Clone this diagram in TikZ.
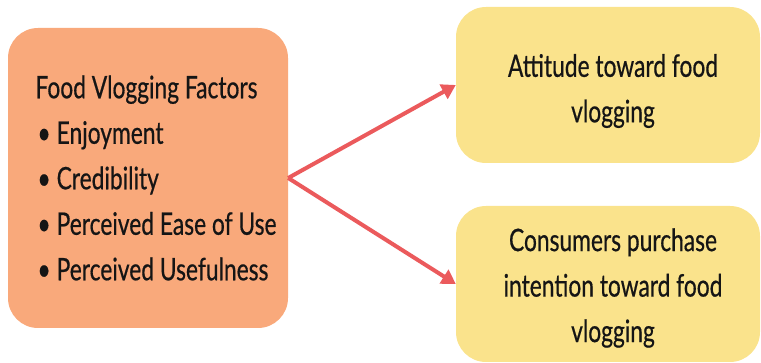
\documentclass[tikz,border=0pt]{standalone}
\usepackage{fontspec}
\setmainfont[FakeStretch=0.735,FakeBold=0.5]{Lato}
\usetikzlibrary{arrows.meta}

\definecolor{boxorange}{HTML}{F9A97B}
\definecolor{boxyellow}{HTML}{FAE38C}
\definecolor{arrowred}{HTML}{EB5A5C}
\definecolor{inkblack}{HTML}{151515}

\begin{document}
\begin{tikzpicture}[x=1pt,y=-1pt,
    box/.style={rounded corners=30pt, inner sep=0pt},
    txt/.style={inner sep=0pt, text=inkblack,
      font=\fontsize{31}{45.5}\selectfont, align=center},
    link/.style={arrowred, line width=4pt, -{Triangle[length=14pt,width=16pt]}}]
    \useasboundingbox (0,0) rectangle (761,363);
    % boxes
    \node [box, fill=boxorange, minimum width=280pt, minimum height=300pt] (factors) at (148,178) {};
    \node [box, fill=boxyellow, minimum width=304pt, minimum height=156pt] (attitude) at (608,85) {};
    \node [box, fill=boxyellow, minimum width=304pt, minimum height=156pt] (intention) at (608,284) {};
    % texts
    \node [txt, align=left] (factorlist) at (156,178) {Food Vlogging Factors\\
      \hspace{2pt}\textbullet\hspace{6pt}Enjoyment\\
      \hspace{2pt}\textbullet\hspace{6pt}Credibility\\
      \hspace{2pt}\textbullet\hspace{6pt}Perceived Ease of Use\\
      \hspace{2pt}\textbullet\hspace{6pt}Perceived Usefulness};
    \node [txt] (attitudetext) at (613,91) {Attitude toward food\\ vlogging};
    \node [txt] (intentiontext) at (613,288) {Consumers purchase\\ intention toward food\\ vlogging};
    % arrows
    \draw [link] (factors.east) -- (attitude.west);
    \draw [link] (factors.east) -- (intention.west);
\end{tikzpicture}
\end{document}
